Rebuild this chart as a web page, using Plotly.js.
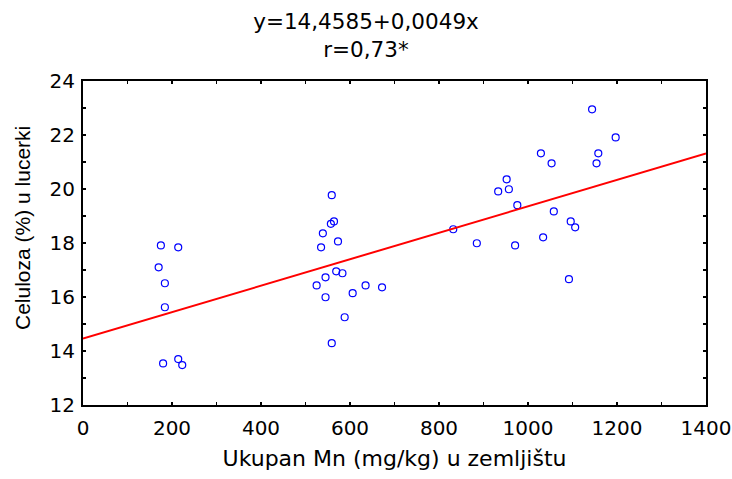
<!DOCTYPE html>
<html>
<head>
<meta charset="utf-8">
<script src="https://cdn.plot.ly/plotly-3.0.1.min.js"></script>
<style>html,body{margin:0;padding:0;background:#fff;}#chart{width:732px;height:479px;}</style>
</head>
<body>
<div id="chart"></div>
<script>
const mnX = [175, 214, 170, 184, 184, 180, 214, 223,
  559, 564, 557, 539, 573, 535, 569, 583, 545, 525, 545, 606, 635, 672, 588, 559,
  1144, 1197, 1158, 1154, 1029, 1053, 952, 933, 957, 976, 1058, 1096, 1106, 832, 885, 971, 1034, 1092];
const celY = [17.91, 17.84, 17.10, 16.51, 15.62, 13.54, 13.70, 13.48,
  19.77, 18.80, 18.71, 18.36, 18.06, 17.84, 16.95, 16.88, 16.73, 16.43, 15.99, 16.14, 16.43, 16.36, 15.25, 14.29,
  22.95, 21.91, 21.32, 20.95, 21.32, 20.95, 20.36, 19.91, 19.99, 19.40, 19.17, 18.80, 18.58, 18.51, 17.99, 17.91, 18.21, 16.66];
const intercept = 14.4585;
const slope = 0.0049;
const lineX = [0, 1400];
const lineY = lineX.map(x => intercept + slope * x);
const titleLines = ["y=14,4585+0,0049x", "r=0,73*"];
const xTitle = "Ukupan Mn (mg/kg) u zemljištu";
const yTitle = "Celuloza (%) u lucerki";

const wide = "DejaVu Sans, Verdana, sans-serif";
const narrow = "Liberation Sans, Arial, sans-serif";
const axisCommon = {
  showgrid: false, zeroline: false, showline: true, linecolor: '#000', linewidth: 2,
  mirror: 'ticks', ticks: 'inside', ticklen: 3, tickwidth: 1.5, tickcolor: '#000',
  tickfont: {family: wide, size: 20, color: '#000'}
};
const data = [
  {x: mnX, y: celY, type: 'scatter', mode: 'markers',
   marker: {symbol: 'circle-open', size: 7, color: '#0000ff', line: {width: 1.2, color: '#0000ff'}},
   hoverinfo: 'x+y'},
  {x: lineX, y: lineY, type: 'scatter', mode: 'lines',
   line: {color: '#ff0000', width: 2}}
];
const layout = {
  width: 732, height: 479,
  margin: {l: 83, r: 26, t: 81, b: 74},
  paper_bgcolor: '#fff', plot_bgcolor: '#fff',
  showlegend: false,
  font: {family: wide, color: '#000'},
  title: {text: titleLines.join('<br>'), font: {family: wide, size: 21.5, color: '#000'},
          x: 0.5, xref: 'container', xanchor: 'center', y: 1 - 29/479, yref: 'container', yanchor: 'middle'},
  xaxis: Object.assign({}, axisCommon, {
    range: [0, 1400], tick0: 0, dtick: 200, ticklabelstandoff: 4,
    minor: {dtick: 100, ticks: 'inside', ticklen: 3, tickwidth: 1.5, tickcolor: '#000'},
    title: {text: xTitle, font: {family: wide, size: 22, color: '#000'}, standoff: 12}
  }),
  yaxis: Object.assign({}, axisCommon, {
    range: [12, 24], tick0: 12, dtick: 2, ticklabelstandoff: 2,
    minor: {dtick: 1, ticks: 'inside', ticklen: 3, tickwidth: 1.5, tickcolor: '#000'}
  }),
  annotations: [{
    text: yTitle, textangle: -90, showarrow: false,
    xref: 'paper', x: 0, xanchor: 'center', xshift: -61,
    yref: 'paper', y: (405 - 228) / 324, yanchor: 'middle',
    font: {family: narrow, size: 21, color: '#000'}
  }]
};
Plotly.newPlot('chart', data, layout, {displayModeBar: false, staticPlot: true});
</script>
</body>
</html>
